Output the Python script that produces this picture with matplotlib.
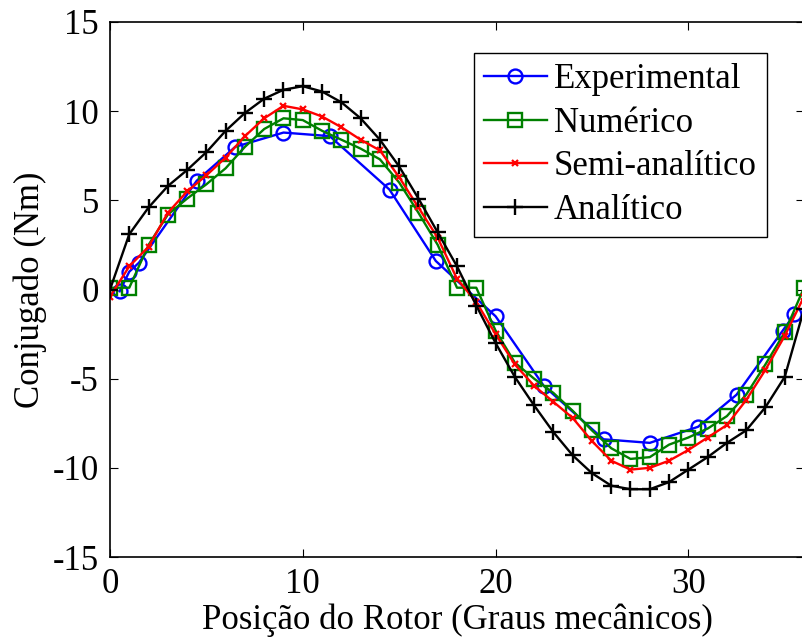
import matplotlib
matplotlib.use("Agg")
import matplotlib.pyplot as plt
from matplotlib.ticker import FuncFormatter

# Dados (posição em graus mecânicos, conjugado em Nm)
x_exp = [0.5, 1.0, 1.5, 4.5, 6.5, 9.0, 11.4, 14.5, 16.9, 20.0, 22.5, 25.6, 28.0, 30.5, 32.5, 34.9, 35.5]
y_exp = [-0.1, 1.0, 1.5, 6.1, 8.0, 8.8, 8.6, 5.6, 1.6, -1.5, -5.4, -8.4, -8.6, -7.7, -5.9, -2.3, -1.4]

x_int = list(range(0, 37))
y_num = [0.1, 0.1, 2.5, 4.2, 5.1, 5.9, 6.8, 8.0, 9.0, 9.6, 9.5, 8.9, 8.4, 7.9, 7.3, 6.0, 4.3, 2.5,
         0.1, 0.1, -2.3, -4.1, -5.0, -5.8, -6.8, -7.9, -8.9, -9.5, -9.4, -8.7, -8.3, -7.8, -7.1, -5.9,
         -4.2, -2.4, 0.1]
y_semi = [-0.4, 1.3, 2.4, 4.3, 5.5, 6.4, 7.4, 8.6, 9.6, 10.3, 10.1, 9.7, 9.1, 8.4, 7.8, 6.3, 4.6, 2.9,
          0.6, -0.7, -2.5, -4.2, -5.4, -6.3, -7.2, -8.5, -9.6, -10.1, -10.0, -9.6, -9.0, -8.3, -7.6,
          -6.2, -4.5, -2.6, -0.4]
y_ana = [0.0, 3.1, 4.6, 5.8, 6.7, 7.7, 8.9, 9.9, 10.7, 11.2, 11.4, 11.1, 10.5, 9.6, 8.4, 6.9, 5.1, 3.2,
         1.3, -0.9, -3.0, -4.9, -6.5, -8.0, -9.3, -10.3, -11.0, -11.2, -11.2, -10.8, -10.1, -9.4, -8.6,
         -7.9, -6.6, -4.9, -1.1]

plt.rcParams['font.family'] = ['Liberation Serif', 'DejaVu Serif']
plt.rcParams['font.size'] = 25
plt.rcParams['axes.unicode_minus'] = False

fig = plt.figure(figsize=(8.03, 6.39), dpi=100)
ax = fig.add_axes([110 / 803, 82 / 639, 694 / 803, 535 / 639])

ax.plot(x_exp, y_exp, color='#0000ff', lw=1.7, marker='o', ms=10, mfc='none', mew=1.7, label='Experimental')
ax.plot(x_int, y_num, color='#008000', lw=1.7, marker='s', ms=10.5, mfc='none', mew=1.7, label='Numérico')
ax.plot(x_int, y_semi, color='#ff0000', lw=1.7, marker='x', ms=5, mew=1.6, label='Semi-analítico')
ax.plot(x_int, y_ana, color='black', lw=1.7, marker='+', ms=12, mew=1.7, label='Analítico')

ax.set_xlim(0, 36)
ax.set_ylim(-15, 15)
ax.set_xticks([0, 10, 20, 30])
ax.set_yticks([-15, -10, -5, 0, 5, 10, 15])
ax.yaxis.set_major_formatter(FuncFormatter(lambda v, p: f"{v:g}".replace('\u2212', '-')))
ax.tick_params(direction='in', length=6, width=0.8, top=True, right=True, pad=8)
for s in ax.spines.values():
    s.set_linewidth(1.2)
ax.spines['right'].set_visible(False)

ax.set_xlabel('Posição do Rotor (Graus mecânicos)', labelpad=2)
ax.set_ylabel('Conjugado (Nm)', labelpad=4)

leg = ax.legend(loc='upper left', bbox_to_anchor=(0.524, 0.942), borderaxespad=0, numpoints=1,
                handlelength=1.8, handletextpad=0.2, labelspacing=0.3, borderpad=0.3,
                fancybox=False, framealpha=1, edgecolor='black')
leg.get_frame().set_linewidth(1.0)

fig.savefig('out.png', dpi=100)
